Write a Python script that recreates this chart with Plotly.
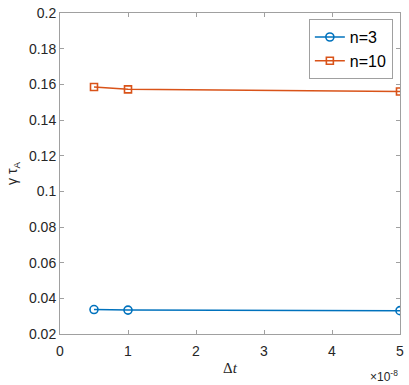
import plotly.graph_objects as go

# time step values (seconds) and growth rates gamma*tau_A
dt = [0.5e-8, 1e-8, 5e-8]
gamma_n3 = [0.0337, 0.0334, 0.0331]
gamma_n10 = [0.1585, 0.1572, 0.1560]
x_scale = 1e-8

x_ticks = [0, 1, 2, 3, 4, 5]
y_ticks = [0.02, 0.04, 0.06, 0.08, 0.1, 0.12, 0.14, 0.16, 0.18, 0.2]

blue = "#0072BD"
orange = "#D95319"
ink = "#262626"
sans = "Liberation Sans, Arial, sans-serif"

x = [v / x_scale for v in dt]

fig = go.Figure()
fig.add_trace(go.Scatter(
    x=x, y=gamma_n3, name="n=3", mode="lines+markers",
    line=dict(color=blue, width=1.5),
    marker=dict(symbol="circle-open", size=8, color=blue, line=dict(width=1.6)),
))
fig.add_trace(go.Scatter(
    x=x, y=gamma_n10, name="n=10", mode="lines+markers",
    line=dict(color=orange, width=1.5),
    marker=dict(symbol="square-open", size=7, color=orange, line=dict(width=1.6)),
))

axis_common = dict(
    showgrid=False, zeroline=False, showline=True, linecolor="#a0a0a0", linewidth=1,
    mirror="ticks", ticks="inside", ticklen=4, tickcolor="#a0a0a0", automargin=False,
    tickfont=dict(family=sans, size=14, color=ink),
)

fig.update_xaxes(
    range=[0, 5], tickvals=x_ticks, ticktext=[str(t) for t in x_ticks],
    ticklabeloverflow="allow", ticklabelstandoff=4,
    **axis_common,
)
fig.update_yaxes(
    range=[0.02, 0.2], tickvals=y_ticks, ticktext=[f"{t:g}" for t in y_ticks],
    **axis_common,
)

# axis titles placed by hand so they sit where the reference has them
fig.add_annotation(
    text="Δ<i>t</i>", xref="paper", yref="paper", x=0.5, y=-0.106,
    xanchor="center", yanchor="middle", showarrow=False,
    font=dict(family="Liberation Serif, serif", size=15, color=ink),
)
fig.add_annotation(
    text="γ τ<sub>A</sub>", xref="paper", yref="paper", x=-0.14, y=0.5,
    xanchor="center", yanchor="middle", textangle=-90, showarrow=False,
    font=dict(family=sans, size=14, color=ink),
)
fig.add_annotation(
    text="×10<sup>-8</sup>", xref="paper", yref="paper", x=1.0, y=-0.13,
    xanchor="right", yanchor="middle", showarrow=False,
    font=dict(family=sans, size=12, color=ink),
)

fig.update_layout(
    width=409, height=385,
    margin=dict(l=60, r=9, t=13, b=51),
    paper_bgcolor="white", plot_bgcolor="white",
    showlegend=True,
    legend=dict(
        x=0.979, y=0.981, xanchor="right", yanchor="top",
        bgcolor="white", bordercolor="#a0a0a0", borderwidth=1,
        font=dict(family=sans, size=16, color="black"),
        itemwidth=30, tracegroupgap=0,
    ),
)

# drop the browser's default 8px body margin so the figure fills the window
fig.write_html(
    "out.html",
    config={"displayModeBar": False},
    post_script="document.body.style.margin = '0';",
)
